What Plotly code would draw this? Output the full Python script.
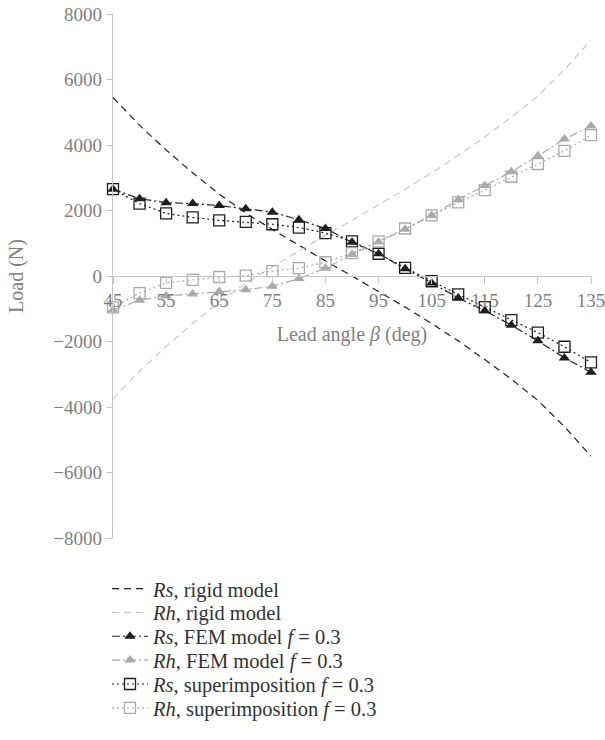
import plotly.graph_objects as go

# Lead angle (deg)
beta = [45, 50, 55, 60, 65, 70, 75, 80, 85, 90, 95, 100, 105, 110, 115, 120, 125, 130, 135]

# Rigid model loads (N)
rs_rigid = [5450, 4600, 3850, 3150, 2500, 1920, 1420, 930, 460, 0, -470, -950,
            -1450, -1980, -2550, -3150, -3800, -4600, -5500]
rh_rigid = [-3750, -2900, -2150, -1450, -800, -220, 280, 770, 1240, 1700, 2170, 2650,
            3150, 3680, 4250, 4850, 5500, 6300, 7200]

# FEM model, f = 0.3
rs_fem = [2650, 2360, 2240, 2210, 2150, 2050, 1950, 1720, 1450, 1030, 680, 220,
          -210, -670, -1060, -1500, -1980, -2500, -2940]
rh_fem = [-1040, -740, -610, -550, -470, -420, -310, -80, 240, 660, 1040, 1430,
          1850, 2330, 2760, 3180, 3670, 4180, 4580]

# Superimposition, f = 0.3
rs_sup = [2650, 2210, 1910, 1790, 1700, 1650, 1580, 1480, 1310, 1060, 680, 250,
          -160, -560, -950, -1350, -1730, -2160, -2640]
rh_sup = [-960, -520, -210, -120, -30, 10, 150, 240, 420, 700, 1060, 1450,
          1850, 2250, 2620, 3030, 3420, 3820, 4300]

x_ticks = [45, 55, 65, 75, 85, 95, 105, 115, 125, 135]
y_ticks = [-8000, -6000, -4000, -2000, 0, 2000, 4000, 6000, 8000]

FONT = "Liberation Serif"
TXT = "#7f7f7f"
LEG_TXT = "#333333"
AXIS = "#c3c7cd"
BLACK = "#1e1e1e"
GREY = "#aaaaaa"
LIGHT = "#c8c8c8"

DASH = "7px,5px"
DASHDOT = "8px,3px,2px,3px"
DOT = "2px,3px"

W, H = 605, 740
M_L, M_R, M_T, M_B = 113, 14, 14, 199
PLOT_H = H - M_T - M_B

series = [
    dict(y=rs_rigid, name="<i>Rs</i>, rigid model", color=BLACK, dash=DASH, marker=None),
    dict(y=rh_rigid, name="<i>Rh</i>, rigid model", color=LIGHT, dash=DASH, marker=None),
    dict(y=rs_fem, name="<i>Rs</i>, FEM model <i>f</i> = 0.3", color=BLACK, dash=DASHDOT,
         marker=dict(symbol="triangle-up", size=10, color=BLACK)),
    dict(y=rh_fem, name="<i>Rh</i>, FEM model <i>f</i> = 0.3", color=GREY, dash=DASHDOT,
         marker=dict(symbol="triangle-up", size=10, color=GREY)),
    dict(y=rs_sup, name="<i>Rs</i>, superimposition <i>f</i> = 0.3", color=BLACK, dash=DOT,
         marker=dict(symbol="square-open", size=11, color=BLACK, line=dict(width=1.3))),
    dict(y=rh_sup, name="<i>Rh</i>, superimposition <i>f</i> = 0.3", color=GREY, dash=DOT,
         marker=dict(symbol="square-open", size=11, color=GREY, line=dict(width=1.3))),
]

fig = go.Figure()
legend_layout = {}
for i, s in enumerate(series):
    key = "legend" if i == 0 else f"legend{i + 1}"
    fig.add_trace(go.Scatter(
        x=beta, y=s["y"], name=s["name"], legend=key,
        mode="lines+markers" if s["marker"] else "lines",
        line=dict(color=s["color"], width=1.2, dash=s["dash"]),
        marker=s["marker"], cliponaxis=False,
    ))
    # one row per legend, stacked under the plot
    row_center = 592 + 24 * i
    legend_layout[key] = dict(
        x=(107 - M_L) / (W - M_L - M_R), xanchor="left",
        y=-(row_center - (M_T + PLOT_H)) / PLOT_H, yanchor="middle",
        font=dict(family=FONT, size=20.5, color=LEG_TXT),
        bgcolor="rgba(0,0,0,0)", itemwidth=36,
    )

fig.update_layout(
    width=W, height=H,
    margin=dict(l=M_L, r=M_R, t=M_T, b=M_B),
    paper_bgcolor="white", plot_bgcolor="white",
    font=dict(family=FONT, size=19, color=TXT),
    showlegend=True,
    xaxis=dict(
        range=[45, 135], tickvals=x_ticks, ticktext=[str(v) for v in x_ticks],
        anchor="free", position=0.5, automargin=False, ticklabeloverflow="allow",
        showline=True, linecolor=AXIS, linewidth=1.3,
        ticks="outside", ticklen=7, tickcolor=AXIS, tickwidth=1.3,
        showgrid=False, zeroline=False,
        tickfont=dict(family=FONT, size=19, color=TXT),
        title=dict(text="Lead angle <i>β</i> (deg)", standoff=17,
                   font=dict(family=FONT, size=20, color=TXT)),
    ),
    yaxis=dict(
        range=[-8000, 8000], tickvals=y_ticks, automargin=False,
        showline=True, linecolor=AXIS, linewidth=1.3,
        ticks="outside", ticklen=6, tickcolor=AXIS, tickwidth=1.3,
        showgrid=False, zeroline=False,
        tickfont=dict(family=FONT, size=19, color=TXT),
        title=dict(text="Load (N)", standoff=24,
                   font=dict(family=FONT, size=20, color=TXT)),
    ),
    **legend_layout,
)

fig.write_html("out.html")
